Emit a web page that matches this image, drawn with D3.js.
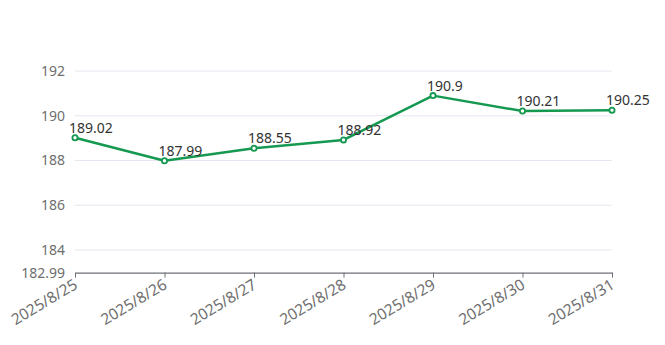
<!DOCTYPE html>
<html>
<head>
<meta charset="utf-8">
<script src="https://cdn.jsdelivr.net/npm/d3@7/dist/d3.min.js"></script>
<style>
  html, body { margin: 0; padding: 0; background: #fff; }
  svg { display: block; font-family: "Noto Sans", "DejaVu Sans", sans-serif; }
</style>
</head>
<body>
<div id="chart"></div>
<script>
// Daily values, 2025/8/25 – 2025/8/31
const dates = ["2025/8/25", "2025/8/26", "2025/8/27", "2025/8/28", "2025/8/29", "2025/8/30", "2025/8/31"];
const values = [189.02, 187.99, 188.55, 188.92, 190.9, 190.21, 190.25];
const yTicks = [184, 186, 188, 190, 192];
const yMin = 182.99;

const width = 665, height = 345;
const left = 75, right = 612;

const svg = d3.select("#chart").append("svg")
  .attr("width", width).attr("height", height);

const x = d3.scalePoint().domain(dates).range([left, right]);
const y = d3.scaleLinear().domain([yMin, 192]).range([272.6, 71]);

// horizontal grid lines
svg.append("g").selectAll("line").data(yTicks).join("line")
  .attr("x1", left).attr("x2", right)
  .attr("y1", d => y(d)).attr("y2", d => y(d))
  .attr("stroke", "#e6e6f0").attr("stroke-width", 1);

// y labels (axis has no line), including the minimum value
const yAxis = d3.axisLeft(y).tickValues([yMin, ...yTicks])
  .tickFormat(d => d === yMin ? "182.99" : d3.format("d")(d))
  .tickSize(0).tickPadding(10);
const gy = svg.append("g").attr("transform", `translate(${left},0)`).call(yAxis);
gy.select(".domain").remove();
gy.selectAll("text").attr("fill", "#6e6e6e").style("font-size", "14px")
  .style("font-family", "'Noto Sans', sans-serif");

// x axis
const xAxis = d3.axisBottom(x).tickSize(5).tickSizeOuter(0);
const gx = svg.append("g").attr("transform", `translate(0,${y(yMin)})`).call(xAxis);
gx.select(".domain").attr("stroke", "#6e7079").attr("stroke-width", 1.2);
gx.selectAll(".tick line").attr("stroke", "#6e7079");
gx.selectAll("text")
  .attr("fill", "#6e6e6e").style("font-size", "15.5px")
  .style("font-family", "'Noto Sans', sans-serif")
  .attr("text-anchor", "end")
  .attr("dy", null).attr("y", 0)
  .attr("transform", "translate(3,15) rotate(-31)");

// line
const line = d3.line().x((d, i) => x(dates[i])).y(d => y(d));
svg.append("path").datum(values)
  .attr("d", line).attr("fill", "none")
  .attr("stroke", "#15984f").attr("stroke-width", 2.5)
  .attr("stroke-linejoin", "round");

// markers
svg.append("g").selectAll("circle").data(values).join("circle")
  .attr("cx", (d, i) => x(dates[i])).attr("cy", d => y(d))
  .attr("r", 2.6).attr("fill", "#fff")
  .attr("stroke", "#15984f").attr("stroke-width", 1.8);

// value labels
svg.append("g").selectAll("text").data(values).join("text")
  .attr("x", (d, i) => x(dates[i]) - 6).attr("y", d => y(d) - 5)
  .attr("fill", "#333").style("font-size", "14px")
  .style("font-family", "'Noto Sans', sans-serif")
  .text(d => String(d));
</script>
</body>
</html>
